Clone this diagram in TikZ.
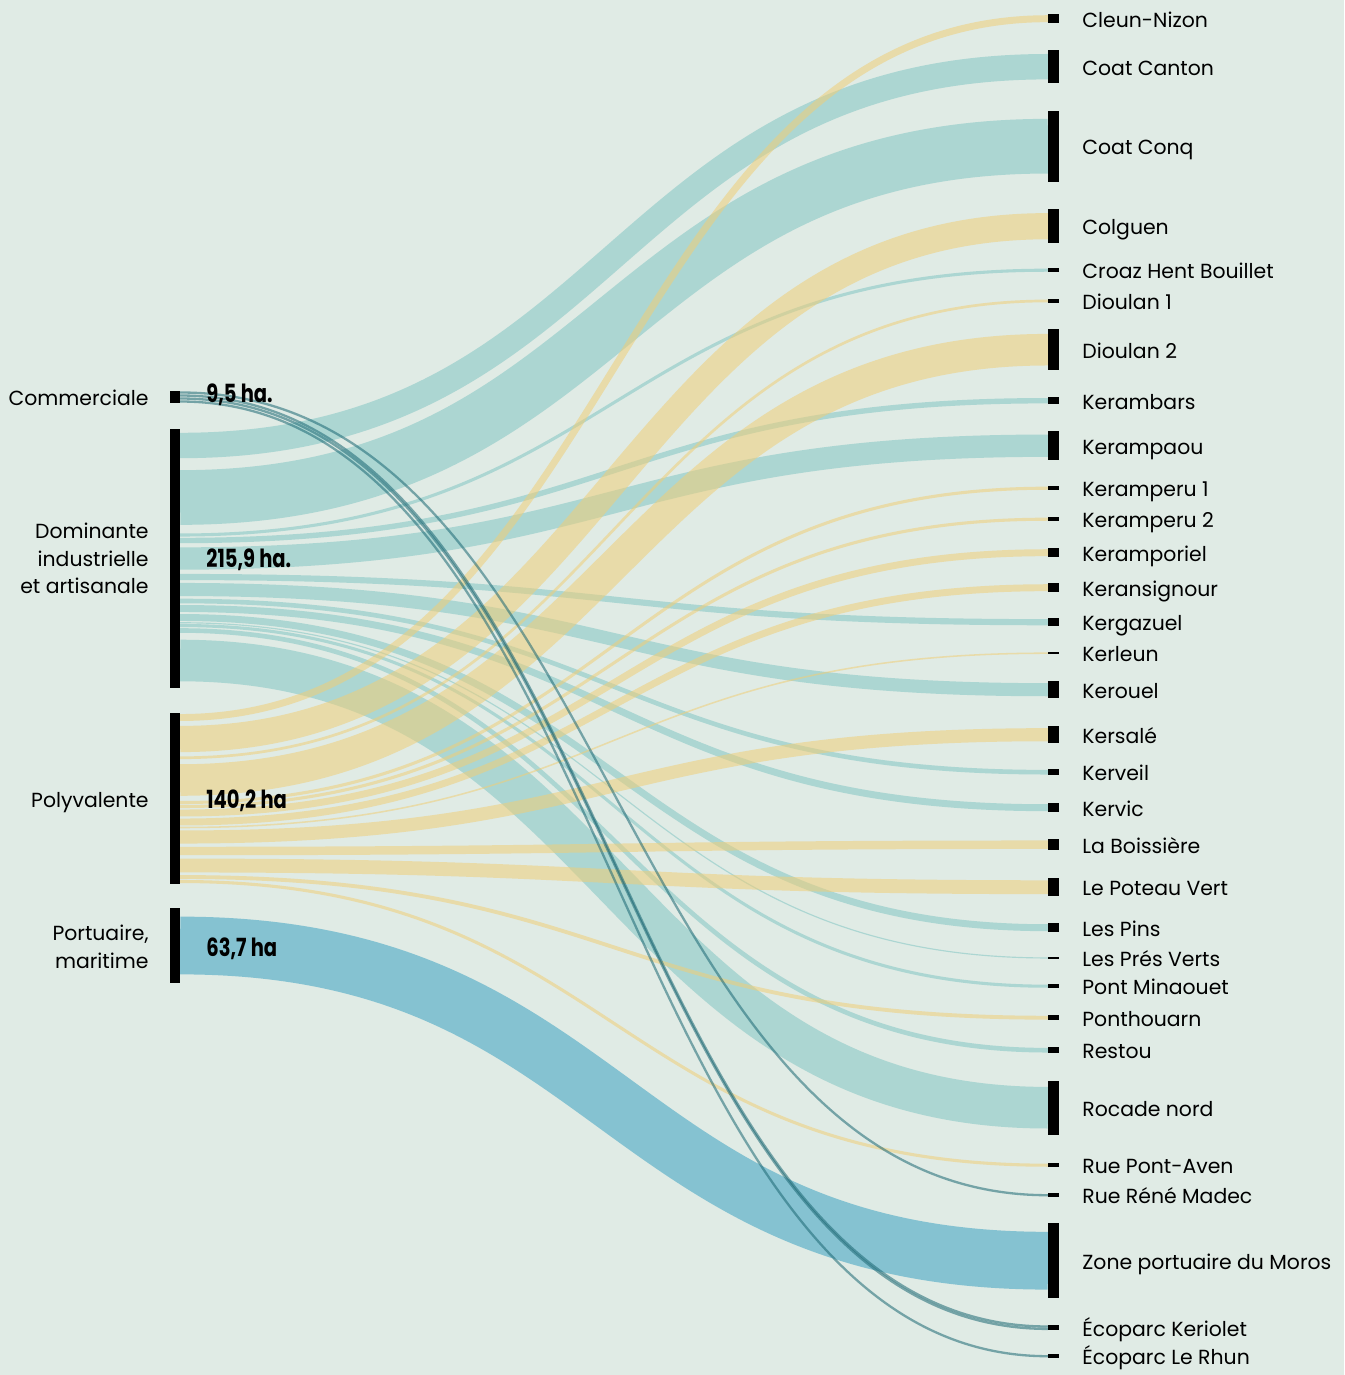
\documentclass[tikz,border=0pt]{standalone}
\usepackage{fontspec}
\setmainfont{Poppins}
\newfontfamily\valfont[FakeStretch=0.78]{Poppins}
\usetikzlibrary{calc,positioning}
\pgfdeclarelayer{bglayer}
\pgfdeclarelayer{edgelayer}
\pgfdeclarelayer{nodelayer}
\pgfsetlayers{bglayer,edgelayer,nodelayer,main}
\definecolor{bgcol}{RGB}{224,235,229}
\definecolor{indus}{RGB}{130,197,195}
\definecolor{poly}{RGB}{239,206,120}
\definecolor{port}{RGB}{60,162,193}
\definecolor{comm}{RGB}{28,104,116}
\tikzset{font=\fontsize{20.4}{27.5}\selectfont}
\tikzstyle{sbar}=[fill=black,inner sep=0pt,minimum width=10pt,anchor=north]
\tikzstyle{tbar}=[fill=black,inner sep=0pt,minimum width=11pt,anchor=north]
\tikzstyle{lab}=[inner sep=0pt,text height=17.5pt,text depth=0pt]
\tikzstyle{mlab}=[inner sep=0pt,align=right]
\tikzstyle{val}=[inner sep=0pt,text height=18pt,text depth=0pt,font=\valfont\bfseries\fontsize{25}{25}\selectfont]
\tikzstyle{ind}=[draw=indus,draw opacity=0.55]
\tikzstyle{pol}=[draw=poly,draw opacity=0.55]
\tikzstyle{prt}=[draw=port,draw opacity=0.55]
\tikzstyle{com}=[draw=comm,draw opacity=0.55]
% band: style, source, offset in source, target, shift at target, height
\newcommand{\flow}[6]{%
  \draw[#1,line width={0.77pt*#6}] ($(#2.north east)+(0,{#3+#6/2})$)
    .. controls +(434,0) and +(-434,0) .. ($(#4.west)+(0,#5)$);}

\begin{document}
\begin{tikzpicture}[x=1pt,y=-1pt]
	\useasboundingbox (0,0) rectangle (1344,1375);
	\begin{pgfonlayer}{bglayer}
		\fill[bgcol] (0,0) rectangle (1344,1375);
	\end{pgfonlayer}
	\begin{pgfonlayer}{nodelayer}
		% sources
		\node[sbar,minimum height=12pt] (commerciale) at (175,391) {};
		\node[sbar,minimum height=258.5pt] (dominante) at (175,429) {};
		\node[sbar,minimum height=170.5pt] (polyvalente) at (175,713) {};
		\node[sbar,minimum height=75pt] (portuaire) at (175,908) {};
		\node[lab,left=21pt of commerciale] {Commerciale};
		\node[mlab,left=21pt of dominante] {Dominante\\industrielle\\et artisanale};
		\node[lab,left=21pt of polyvalente] {Polyvalente};
		\node[mlab,left=21pt of portuaire,yshift=-1pt] {Portuaire,\\maritime};
		\node[val,right=26pt of commerciale,yshift=4pt] {9,5 ha.};
		\node[val,right=26pt of dominante] {215,9 ha.};
		\node[val,right=26pt of polyvalente,yshift=-1pt] {140,2 ha};
		\node[val,right=26pt of portuaire,yshift=-2pt] {63,7 ha};
		% targets
		\node[tbar,minimum height=9pt] (cleun) at (1053.5,14) {};
		\node[tbar,minimum height=33pt] (coatcanton) at (1053.5,50) {};
		\node[tbar,minimum height=71pt] (coatconq) at (1053.5,110.5) {};
		\node[tbar,minimum height=34pt] (colguen) at (1053.5,209) {};
		\node[tbar,minimum height=4pt] (croaz) at (1053.5,268) {};
		\node[tbar,minimum height=3.5pt] (dioulanA) at (1053.5,299) {};
		\node[tbar,minimum height=41pt] (dioulanB) at (1053.5,329) {};
		\node[tbar,minimum height=7pt] (kerambars) at (1053.5,397) {};
		\node[tbar,minimum height=29pt] (kerampaou) at (1053.5,431) {};
		\node[tbar,minimum height=4pt] (keramperuA) at (1053.5,486) {};
		\node[tbar,minimum height=4pt] (keramperuB) at (1053.5,517) {};
		\node[tbar,minimum height=9pt] (keramporiel) at (1053.5,548) {};
		\node[tbar,minimum height=9pt] (keransignour) at (1053.5,583) {};
		\node[tbar,minimum height=8pt] (kergazuel) at (1053.5,618) {};
		\node[tbar,minimum height=2pt] (kerleun) at (1053.5,652) {};
		\node[tbar,minimum height=17pt] (kerouel) at (1053.5,681) {};
		\node[tbar,minimum height=17pt] (kersale) at (1053.5,726) {};
		\node[tbar,minimum height=6pt] (kerveil) at (1053.5,769) {};
		\node[tbar,minimum height=9pt] (kervic) at (1053.5,803) {};
		\node[tbar,minimum height=11pt] (boissiere) at (1053.5,839) {};
		\node[tbar,minimum height=18pt] (poteau) at (1053.5,878) {};
		\node[tbar,minimum height=9pt] (lespins) at (1053.5,923) {};
		\node[tbar,minimum height=1.5pt] (presverts) at (1053.5,957) {};
		\node[tbar,minimum height=4pt] (minaouet) at (1053.5,984) {};
		\node[tbar,minimum height=5pt] (ponthouarn) at (1053.5,1015) {};
		\node[tbar,minimum height=6pt] (restou) at (1053.5,1047) {};
		\node[tbar,minimum height=54pt] (rocade) at (1053.5,1080.5) {};
		\node[tbar,minimum height=4pt] (pontaven) at (1053.5,1163) {};
		\node[tbar,minimum height=4pt] (madec) at (1053.5,1193) {};
		\node[tbar,minimum height=75pt] (moros) at (1053.5,1223) {};
		\node[tbar,minimum height=5pt] (keriolet) at (1053.5,1325) {};
		\node[tbar,minimum height=4pt] (rhun) at (1053.5,1354) {};
		\node[lab,right=23pt of cleun] {Cleun-Nizon};
		\node[lab,right=23pt of coatcanton] {Coat Canton};
		\node[lab,right=23pt of coatconq] {Coat Conq};
		\node[lab,right=23pt of colguen] {Colguen};
		\node[lab,right=23pt of croaz] {Croaz Hent Bouillet};
		\node[lab,right=23pt of dioulanA] {Dioulan 1};
		\node[lab,right=23pt of dioulanB] {Dioulan 2};
		\node[lab,right=23pt of kerambars] {Kerambars};
		\node[lab,right=23pt of kerampaou] {Kerampaou};
		\node[lab,right=23pt of keramperuA] {Keramperu 1};
		\node[lab,right=23pt of keramperuB] {Keramperu 2};
		\node[lab,right=23pt of keramporiel] {Keramporiel};
		\node[lab,right=23pt of keransignour] {Keransignour};
		\node[lab,right=23pt of kergazuel] {Kergazuel};
		\node[lab,right=23pt of kerleun] {Kerleun};
		\node[lab,right=23pt of kerouel] {Kerouel};
		\node[lab,right=23pt of kersale] {Kersalé};
		\node[lab,right=23pt of kerveil] {Kerveil};
		\node[lab,right=23pt of kervic] {Kervic};
		\node[lab,right=23pt of boissiere] {La Boissière};
		\node[lab,right=23pt of poteau] {Le Poteau Vert};
		\node[lab,right=23pt of lespins] {Les Pins};
		\node[lab,right=23pt of presverts] {Les Prés Verts};
		\node[lab,right=23pt of minaouet] {Pont Minaouet};
		\node[lab,right=23pt of ponthouarn] {Ponthouarn};
		\node[lab,right=23pt of restou] {Restou};
		\node[lab,right=23pt of rocade] {Rocade nord};
		\node[lab,right=23pt of pontaven] {Rue Pont-Aven};
		\node[lab,right=23pt of madec] {Rue Réné Madec};
		\node[lab,right=23pt of moros] {Zone portuaire du Moros};
		\node[lab,right=23pt of keriolet] {Écoparc Keriolet};
		\node[lab,right=23pt of rhun] {Écoparc Le Rhun};
	\end{pgfonlayer}
	\begin{pgfonlayer}{edgelayer}
		% dominante industrielle et artisanale
		\flow{ind}{dominante}{0}{coatcanton}{0}{33}
		\flow{ind}{dominante}{33}{coatconq}{0}{71}
		\flow{ind}{dominante}{104}{croaz}{0}{4}
		\flow{ind}{dominante}{108}{kerambars}{0}{7}
		\flow{ind}{dominante}{115}{kerampaou}{0}{29}
		\flow{ind}{dominante}{144}{kergazuel}{0}{8}
		\flow{ind}{dominante}{152}{kerouel}{0}{17}
		\flow{ind}{dominante}{169}{kerveil}{0}{6}
		\flow{ind}{dominante}{175}{kervic}{0}{9}
		\flow{ind}{dominante}{184}{lespins}{0}{9}
		\flow{ind}{dominante}{193}{presverts}{0}{1.5}
		\flow{ind}{dominante}{194.5}{minaouet}{0}{4}
		\flow{ind}{dominante}{198.5}{restou}{0}{6}
		\flow{ind}{dominante}{204.5}{rocade}{0}{54}
		% polyvalente
		\flow{pol}{polyvalente}{0}{cleun}{0}{9}
		\flow{pol}{polyvalente}{9}{colguen}{0}{34}
		\flow{pol}{polyvalente}{43}{dioulanA}{0}{3.5}
		\flow{pol}{polyvalente}{46.5}{dioulanB}{0}{41}
		\flow{pol}{polyvalente}{87.5}{keramperuA}{0}{4}
		\flow{pol}{polyvalente}{91.5}{keramperuB}{0}{4}
		\flow{pol}{polyvalente}{95.5}{keramporiel}{0}{9}
		\flow{pol}{polyvalente}{104.5}{keransignour}{0}{9}
		\flow{pol}{polyvalente}{113.5}{kerleun}{0}{2}
		\flow{pol}{polyvalente}{115.5}{kersale}{0}{17}
		\flow{pol}{polyvalente}{132.5}{boissiere}{0}{11}
		\flow{pol}{polyvalente}{143.5}{poteau}{0}{18}
		\flow{pol}{polyvalente}{161.5}{ponthouarn}{0}{5}
		\flow{pol}{polyvalente}{166.5}{pontaven}{0}{4}
		% portuaire
		\flow{prt}{portuaire}{0}{moros}{0}{75}
		% commerciale
		\flow{com}{commerciale}{0}{madec}{0}{3}
		\flow{com}{commerciale}{3}{keriolet}{-1.2}{3}
		\flow{com}{commerciale}{6}{keriolet}{1.2}{3}
		\flow{com}{commerciale}{9}{rhun}{0}{3}
	\end{pgfonlayer}
\end{tikzpicture}
\end{document}
